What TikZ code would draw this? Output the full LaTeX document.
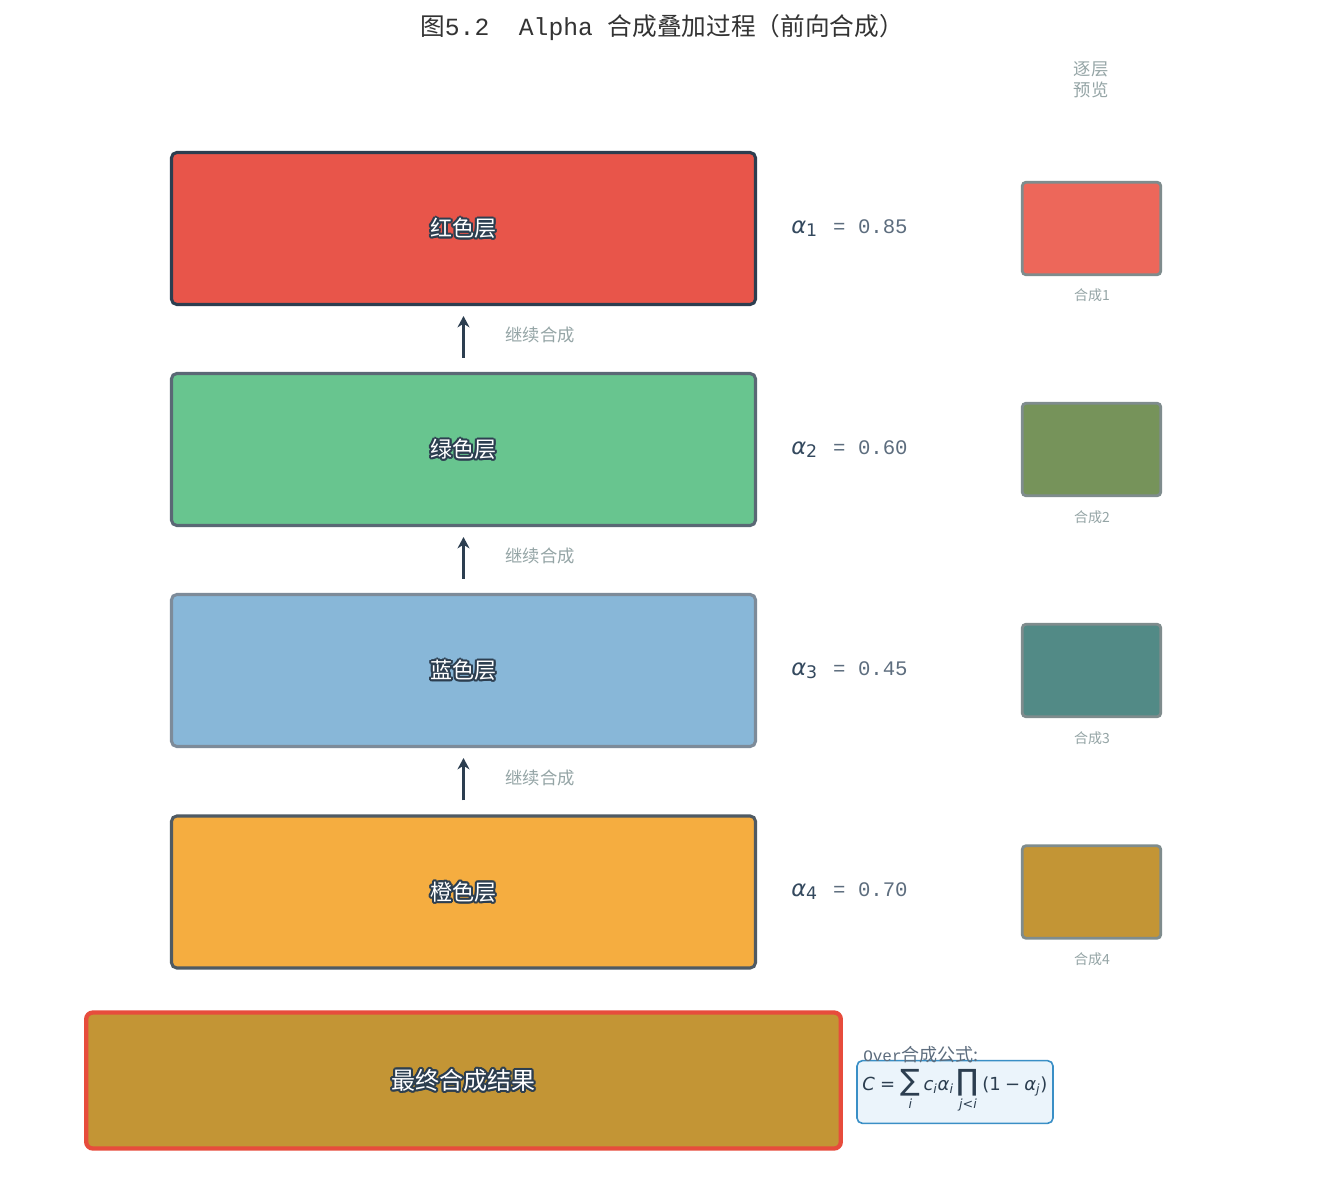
\documentclass[tikz,border=0pt]{standalone}
\usepackage{fontspec}
\usetikzlibrary{arrows.meta}
\newfontfamily\cjk{Noto Sans CJK SC}
\newfontfamily\mono{Liberation Mono}
\newfontfamily\djv{DejaVu Sans}
\definecolor{dark}{HTML}{2C3E50}
\definecolor{redfill}{HTML}{E8554A}
\definecolor{greenfill}{HTML}{68C58F}
\definecolor{bluefill}{HTML}{88B7D8}
\definecolor{orangefill}{HTML}{F5AD40}
\definecolor{finalfill}{HTML}{C39535}
\definecolor{redborder}{HTML}{2C3E50}
\definecolor{greenborder}{HTML}{5A6875}
\definecolor{blueborder}{HTML}{7D8B99}
\definecolor{orangeborder}{HTML}{4F5A63}
\definecolor{pvred}{HTML}{ED675A}
\definecolor{pvgreen}{HTML}{76935A}
\definecolor{pvteal}{HTML}{528A86}
\definecolor{pvgold}{HTML}{C39535}
\definecolor{pvborder}{HTML}{7F8C8D}
\definecolor{lightgray}{HTML}{95A5A6}
\definecolor{alphadark}{HTML}{34495E}
\definecolor{valgray}{HTML}{5D6D7E}
\definecolor{finalborder}{HTML}{E74C3C}
\definecolor{fbfill}{HTML}{EBF4FB}
\definecolor{fbborder}{HTML}{3A8FC6}
\definecolor{titlecol}{HTML}{333333}
% outlined text built inside one box
\newcommand\oo[3]{\rlap{\kern#1pt\raisebox{#2pt}{\color{dark}#3}}}
\newcommand\outl[1]{\leavevmode
  \oo{1.5}{0}{#1}\oo{1.3}{0.75}{#1}\oo{0.75}{1.3}{#1}\oo{0}{1.5}{#1}%
  \oo{-0.75}{1.3}{#1}\oo{-1.3}{0.75}{#1}\oo{-1.5}{0}{#1}\oo{-1.3}{-0.75}{#1}%
  \oo{-0.75}{-1.3}{#1}\oo{0}{-1.5}{#1}\oo{0.75}{-1.3}{#1}\oo{1.3}{-0.75}{#1}%
  {\color{white}#1}}
\newcommand\alphalabel[2]{{\djv\itshape\fontsize{17}{17}\selectfont α}\raisebox{-0.45ex}{\djv\fontsize{13}{13}\selectfont #1}\hspace{12pt}{\mono\fontsize{15.5}{15.5}\selectfont\color{valgray}= #2}}
\newcommand\fsub[1]{_{\hbox{\fontsize{9.5}{9.5}\selectfont\itshape #1}}}
\begin{document}
\begin{tikzpicture}[x=0.75pt,y=-0.75pt,
  layer/.style={draw, rounded corners=4pt, minimum width=438pt, minimum height=114pt, inner sep=0pt},
  preview/.style={draw=pvborder, line width=2.1pt, rounded corners=3pt, minimum width=104pt, minimum height=69.5pt, inner sep=0pt},
  flow/.style={draw=dark, line width=2.4pt, -{Stealth[length=8.5pt,width=9pt]}},
  note/.style={text=lightgray, font=\cjk\fontsize{13}{13}\selectfont},
  pvnote/.style={text=lightgray, font=\cjk\fontsize{10.5}{10.5}\selectfont},
  lab/.style={font=\cjk\fontsize{16.5}{16.5}\selectfont, inner sep=0pt}]
\useasboundingbox[fill=white] (0,0) rectangle (1335,1184);

\node[text=titlecol, font=\fontsize{18.5}{18.5}\selectfont] (title) at (662,28)
  {{\cjk 图}{\mono 5.2\ \ Alpha\ }{\cjk 合成叠加过程（前向合成）}};

\node[text=lightgray, font=\cjk\fontsize{13}{15.5}\selectfont, align=center] (pvtitle) at (1091,80) {逐层\\预览};

% layers
\node[layer, fill=redfill, draw=redborder, line width=2.3pt] (red) at (463.5,228.5) {};
\node[layer, fill=greenfill, draw=greenborder, line width=2.3pt] (green) at (463.5,449.5) {};
\node[layer, fill=bluefill, draw=blueborder, line width=2.3pt] (blue) at (463.5,670.5) {};
\node[layer, fill=orangefill, draw=orangeborder, line width=2.3pt] (orange) at (463.5,892) {};

\node[lab] (redlab) at (red.center) {\outl{红色层}};
\node[lab] (greenlab) at (green.center) {\outl{绿色层}};
\node[lab] (bluelab) at (blue.center) {\outl{蓝色层}};
\node[lab] (orangelab) at (orange.center) {\outl{橙色层}};

% arrows
\draw[flow] ([yshift=10.5pt]green.north) -- ([yshift=-7.5pt]red.south);
\draw[flow] ([yshift=10.5pt]blue.north) -- ([yshift=-7.5pt]green.south);
\draw[flow] ([yshift=10.5pt]orange.north) -- ([yshift=-7.5pt]blue.south);
\node[note] (n1) at (540,335) {继续合成};
\node[note] (n2) at (540,556) {继续合成};
\node[note] (n3) at (540,778) {继续合成};

% alpha labels
\node[anchor=west, text=alphadark, inner sep=0pt] (a1) at (791,228) {\alphalabel{1}{0.85}};
\node[anchor=west, text=alphadark, inner sep=0pt] (a2) at (791,449) {\alphalabel{2}{0.60}};
\node[anchor=west, text=alphadark, inner sep=0pt] (a3) at (791,670) {\alphalabel{3}{0.45}};
\node[anchor=west, text=alphadark, inner sep=0pt] (a4) at (791,891) {\alphalabel{4}{0.70}};

% previews
\node[preview, fill=pvred] (p1) at (1091.5,228.5) {};
\node[preview, fill=pvgreen] (p2) at (1091.5,449.5) {};
\node[preview, fill=pvteal] (p3) at (1091.5,670.5) {};
\node[preview, fill=pvgold] (p4) at (1091.5,892) {};
\node[pvnote] (p1l) at (1092,295) {合成1};
\node[pvnote] (p2l) at (1092,517) {合成2};
\node[pvnote] (p3l) at (1092,738) {合成3};
\node[pvnote] (p4l) at (1092,959) {合成4};

% final
\node[draw=finalborder, fill=finalfill, line width=3.2pt, rounded corners=5pt, minimum width=566pt, minimum height=102pt, inner sep=0pt] (final) at (463.5,1080.5) {};
\node[lab, font=\cjk\fontsize{18}{18}\selectfont] (finallab) at (final.center) {\outl{最终合成结果}};

% formula
\node[draw=fbborder, fill=fbfill, line width=1.2pt, rounded corners=4pt, minimum width=147pt, minimum height=47pt, inner sep=0pt] (fbox) at (955,1092) {};
\node[anchor=west, text=dark, inner sep=0pt, font=\djv\fontsize{13.5}{13.5}\selectfont] (formula) at (862,1091)
  {$\hbox{\itshape C}\mathrel{\hbox{=}}\mathop{\hbox{\fontsize{22}{22}\selectfont ∑}}\limits\fsub{i}\hbox{\itshape c}\fsub{i}\hbox{\itshape α}\fsub{i}\mathop{\hbox{\fontsize{22}{22}\selectfont ∏}}\limits\fsub{j<i}\hbox{(1}\mathbin{\hbox{−}}\hbox{\itshape α}\fsub{j}\hbox{)}$};
\node[anchor=west, text=valgray, inner sep=0pt] (ftitle) at (863,1055)
  {{\mono\fontsize{12}{12}\selectfont Over}{\cjk\fontsize{13.5}{13.5}\selectfont 合成公式:}};
\end{tikzpicture}
\end{document}
